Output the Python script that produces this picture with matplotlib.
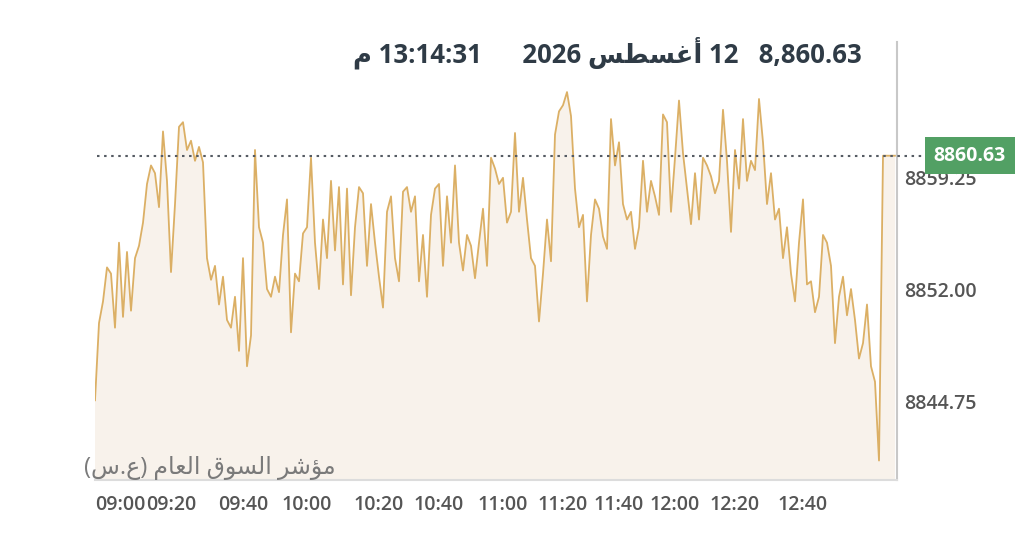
import numpy as np
import matplotlib
matplotlib.use("Agg")
import matplotlib.pyplot as plt
import matplotlib.transforms as mtransforms

# ---------------- data ----------------
values = [
    8844.8, 8849.8, 8851.2, 8853.4, 8853.0, 8849.5, 8855.0, 8850.2, 8854.4, 8850.6,
    8854.0, 8854.8, 8856.3, 8858.8, 8860.0, 8859.5, 8857.3, 8862.2, 8859.0, 8853.1,
    8857.5, 8862.5, 8862.8, 8861.0, 8861.6, 8860.3, 8861.2, 8860.2, 8854.0, 8852.6,
    8853.5, 8851.0, 8852.8, 8850.0, 8849.5, 8851.5, 8848.0, 8854.0, 8847.0, 8849.0,
    8861.0, 8856.0, 8855.0, 8852.0, 8851.5, 8852.8, 8851.8, 8855.5, 8857.8, 8849.2,
    8853.0, 8852.5, 8855.6, 8856.0, 8860.5, 8855.0, 8852.0, 8856.5, 8854.0, 8859.0,
    8854.5, 8858.6, 8852.3, 8858.5, 8851.6, 8856.0, 8858.6, 8858.2, 8853.5, 8857.5,
    8855.0, 8852.8, 8850.8, 8857.0, 8858.0, 8854.0, 8852.5, 8858.3, 8858.6, 8857.0,
    8858.0, 8852.5, 8855.5, 8851.5, 8856.8, 8858.5, 8858.8, 8853.5, 8858.0, 8855.0,
    8860.0, 8855.0, 8853.2, 8855.5, 8854.8, 8852.7, 8855.0, 8857.2, 8853.5, 8860.5,
    8859.8, 8858.8, 8859.2, 8856.3, 8857.0, 8862.1, 8857.0, 8859.2, 8856.5, 8854.0,
    8853.5, 8849.9, 8853.0, 8856.5, 8853.8, 8862.0, 8863.5, 8863.9, 8864.75, 8863.2,
    8858.5, 8856.0, 8856.8, 8851.2, 8855.5, 8857.8, 8857.2, 8855.4, 8854.6, 8863.0,
    8860.0, 8861.5, 8857.5, 8856.5, 8857.0, 8854.6, 8856.0, 8860.3, 8857.0, 8859.0,
    8858.0, 8856.8, 8863.3, 8862.8, 8857.0, 8860.5, 8864.2, 8860.8, 8858.5, 8856.2,
    8859.5, 8856.5, 8860.5, 8860.0, 8859.3, 8858.2, 8859.0, 8863.6, 8860.3, 8855.7,
    8861.0, 8858.5, 8863.0, 8859.0, 8860.3, 8859.7, 8864.3, 8861.5, 8857.5, 8859.5,
    8856.5, 8857.2, 8854.0, 8856.0, 8853.0, 8851.2, 8855.0, 8857.8, 8852.3, 8852.5,
    8850.5, 8851.5, 8855.5, 8855.0, 8853.5, 8848.5, 8851.5, 8852.8, 8850.3, 8852.0,
    8850.0, 8847.5, 8848.5, 8851.0, 8847.0, 8846.0, 8840.9, 8860.63, 8860.63, 8860.63,
    8860.63,
]
last_value = 8860.63
tick_labels = ["09:00", "09:20", "09:40", "10:00", "10:20", "10:40",
               "11:00", "11:20", "11:40", "12:00", "12:20", "12:40"]
tick_index = [0, 19, 37, 53, 71, 86, 102, 117, 131, 145, 160, 177]
y_ticks = [8844.75, 8852.00, 8859.25]

title_parts = ["8,860.63", "   ", "12", " ", "أغسطس", " ", "2026", "      ", "13:14:31", " ", "م"]
index_name = "مؤشر السوق العام (ع.س)"

# ------------- minimal Arabic shaping (visual order) -------------
AR = {
    '\u0623': ('\uFE83', '\uFE84', None, None),
    '\u0624': ('\uFE85', '\uFE86', None, None),
    '\u0627': ('\uFE8D', '\uFE8E', None, None),
    '\u0631': ('\uFEAD', '\uFEAE', None, None),
    '\u0648': ('\uFEED', '\uFEEE', None, None),
    '\u0633': ('\uFEB1', '\uFEB2', '\uFEB3', '\uFEB4'),
    '\u0634': ('\uFEB5', '\uFEB6', '\uFEB7', '\uFEB8'),
    '\u0637': ('\uFEC1', '\uFEC2', '\uFEC3', '\uFEC4'),
    '\u0639': ('\uFEC9', '\uFECA', '\uFECB', '\uFECC'),
    '\u063A': ('\uFECD', '\uFECE', '\uFECF', '\uFED0'),
    '\u0642': ('\uFED5', '\uFED6', '\uFED7', '\uFED8'),
    '\u0644': ('\uFEDD', '\uFEDE', '\uFEDF', '\uFEE0'),
    '\u0645': ('\uFEE1', '\uFEE2', '\uFEE3', '\uFEE4'),
}


def shape(word):
    out = []
    for i, ch in enumerate(word):
        f = AR.get(ch)
        if f is None:
            out.append(ch)
            continue
        prev = word[i - 1] if i > 0 else None
        nxt = word[i + 1] if i + 1 < len(word) else None
        jp = prev in AR and AR[prev][2] is not None
        jn = f[2] is not None and nxt in AR
        if jp and jn:
            out.append(f[3])
        elif jp:
            out.append(f[1])
        elif jn:
            out.append(f[2])
        else:
            out.append(f[0])
    return ''.join(out)


def rtl(text):
    return shape(text)[::-1].translate(str.maketrans('()', ')('))


def is_ar(s):
    return any(c in AR for c in s)


title_visual = ''.join(rtl(p) if is_ar(p) else p for p in reversed(title_parts))

# ---------------- figure ----------------
FAM = ['Open Sans', 'DejaVu Sans']
fig = plt.figure(figsize=(10.24, 5.39), dpi=100)
ax = fig.add_axes([95 / 1024, 1 - 480 / 539, (897 - 95) / 1024, (480 - 42) / 539])

x = np.arange(len(values))
line_color = '#d6a34c'
ax.fill_between(x, values, 8800, color='#f8f2eb', lw=0, zorder=1)
ax.plot(x, values, color=line_color, lw=1.3, alpha=0.85, zorder=2)

ax.set_xlim(0, len(values) - 0.5)
ax.set_ylim(8839.64, 8867.99)

# dotted last-value line extending to the label
trans = mtransforms.blended_transform_factory(ax.transAxes, ax.transData)
ax.plot([0.003, 1.035], [last_value, last_value], transform=trans, ls=(0, (1.2, 2.2)),
        color='#555b63', lw=1.5, clip_on=False, zorder=4)

ax.text(1.091, last_value, f"{last_value:.2f}", transform=trans, ha='center', va='center',
        color='white', fontsize=14, fontweight='bold', family=FAM, zorder=10, clip_on=False,
        bbox=dict(boxstyle='square,pad=0.45', fc='#52a064', ec='none'))

# spines
for s in ['left', 'top']:
    ax.spines[s].set_visible(False)
ax.spines['right'].set_color('#c8c8c8')
ax.spines['right'].set_linewidth(1.5)
ax.spines['bottom'].set_color('#dcdcdc')
ax.spines['bottom'].set_linewidth(1.5)

ax.yaxis.tick_right()
ax.set_yticks(y_ticks)
ax.set_yticklabels([f"{v:.2f}" for v in y_ticks])
ax.tick_params(axis='y', length=0, pad=5, labelsize=14, labelcolor='#555555')
ax.set_xticks(tick_index)
ax.set_xticklabels(tick_labels)
ax.tick_params(axis='x', length=0, pad=11, labelsize=14, labelcolor='#555555')
for lab in ax.get_xticklabels() + ax.get_yticklabels():
    lab.set_family(FAM)
    lab.set_fontweight('semibold')
ax.get_xticklabels()[0].set_horizontalalignment('left')

# title line
fig.text(862 / 1024, 1 - 53 / 539, title_visual, ha='right', va='center', fontsize=18.5,
         fontweight='bold', color='#2f3b46', family=FAM)

# index name (bottom-left)
fig.text(336 / 1024, 1 - 468 / 539, rtl(index_name), ha='right', va='center', fontsize=17,
         color='#7a7a7a', family=FAM)

fig.savefig('out.png', dpi=100)
